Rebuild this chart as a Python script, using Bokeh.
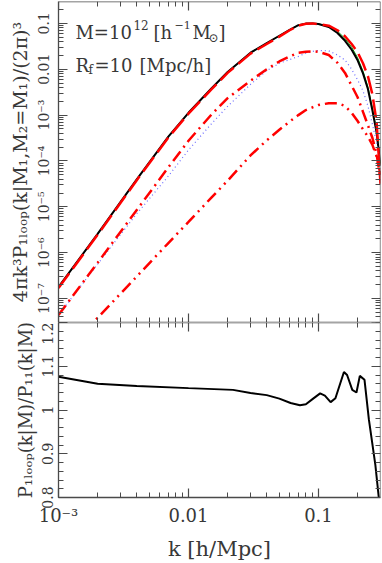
import numpy as np
from bokeh.plotting import figure
from bokeh.layouts import column
from bokeh.models import (Range1d, LogAxis, LinearAxis, FixedTicker,
                          CustomJSTickFormatter, Label)
from bokeh.embed import file_html
from bokeh.resources import INLINE

# ---------------- data ----------------
k = [0.001, 0.002, 0.004, 0.007, 0.01, 0.015, 0.02, 0.03, 0.04, 0.05, 0.06, 0.07,
     0.08, 0.09, 0.1, 0.12, 0.14, 0.16, 0.18, 0.2, 0.22, 0.24, 0.26, 0.28, 0.3]
# log10 of 4 pi k^3 P / (2 pi)^3
log_total_black = [-6.75, -5.59, -4.40, -3.47, -2.95, -2.42, -2.06, -1.64, -1.43, -1.27, -1.14, -1.04,
                   -1.005, -1.0, -1.015, -1.08, -1.21, -1.38, -1.575, -1.805, -2.09, -2.43, -2.90, -3.38, -4.1]
log_total_green = [-6.75, -5.59, -4.40, -3.47, -2.95, -2.42, -2.06, -1.64, -1.43, -1.27, -1.14, -1.04,
                   -1.005, -1.0, -1.01, -1.06, -1.17, -1.33, -1.52, -1.75, -2.04, -2.38, -2.85, -3.33, -4.05]
log_total_red = [-6.77, -5.61, -4.42, -3.49, -2.97, -2.44, -2.08, -1.66, -1.45, -1.29, -1.15, -1.05,
                 -1.01, -1.0, -1.02, -1.05, -1.15, -1.28, -1.45, -1.63, -1.87, -2.15, -2.55, -3.15, -4.5]
log_dashdot = [-7.36, -6.22, -5.07, -4.14, -3.56, -2.99, -2.63, -2.25, -2.0, -1.83, -1.72, -1.64,
               -1.62, -1.61, -1.62, -1.69, -1.86, -2.08, -2.36, -2.61, -2.93, -3.22, -3.50, -3.85, -4.4]
log_dotted = [-7.36, -6.25, -5.15, -4.33, -3.76, -3.19, -2.81, -2.33, -2.03, -1.87, -1.79, -1.72,
              -1.65, -1.61, -1.59, -1.60, -1.69, -1.80, -2.0, -2.23, -2.47, -2.80, -3.2, -3.6, -4.0]
log_dashdotdot = [-8.33, -7.42, -6.52, -5.79, -5.33, -4.80, -4.43, -3.88, -3.55, -3.32, -3.14, -3.0,
                  -2.89, -2.83, -2.78, -2.74, -2.74, -2.80, -2.95, -3.13, -3.31, -3.47, -3.65, -3.9, -4.3]

ratio_k = [0.001, 0.002, 0.004, 0.01, 0.022, 0.03, 0.04, 0.05, 0.061, 0.072, 0.08, 0.091,
           0.103, 0.112, 0.124, 0.135, 0.157, 0.166, 0.182, 0.196, 0.208, 0.226, 0.244,
           0.274, 0.291, 0.3]
ratio = [1.076, 1.060, 1.055, 1.050, 1.046, 1.039, 1.034, 1.026, 1.016, 1.011, 1.013, 1.026,
         1.038, 1.033, 1.018, 1.027, 1.087, 1.080, 1.046, 1.040, 1.078, 1.069, 0.979,
         0.874, 0.80, 0.75]

x_major = [1e-3, 1e-2, 1e-1]
y_major = [1e-7, 1e-6, 1e-5, 1e-4, 1e-3, 1e-2, 1e-1]
r_major = [0.8, 0.9, 1.0, 1.1, 1.2]

FONT = "DejaVu Serif"
AXC = "#4a4a4a"
TXC = "#383838"

x_minor = [m * d for d in (1e-3, 1e-2, 1e-1) for m in range(2, 10) if m * d <= 0.3 + 1e-9]
y_minor = [m * 10.0 ** e for e in range(-8, 0) for m in range(2, 10)]
r_minor = [round(0.8 + 0.02 * i, 3) for i in range(21)]

LOG_FMT = """
const e = Math.round(Math.log10(tick));
if (e >= -2) { return e == -1 ? '0.1' : (e == -2 ? '0.01' : String(tick)); }
const sup = {'-': '\u207b', '0': '\u2070', '1': '\u00b9', '2': '\u00b2', '3': '\u00b3',
             '4': '\u2074', '5': '\u2075', '6': '\u2076', '7': '\u2077', '8': '\u2078', '9': '\u2079'};
return '10' + String(e).split('').map(c => sup[c]).join('');
"""


def style(ax, labels=True, size="13px"):
    ax.axis_line_color = AXC
    ax.axis_line_width = 1.3
    ax.major_tick_line_color = AXC
    ax.minor_tick_line_color = AXC
    ax.major_tick_line_width = 1.2
    ax.minor_tick_line_width = 1
    ax.major_tick_in = 9
    ax.major_tick_out = 0
    ax.minor_tick_in = 5
    ax.minor_tick_out = 0
    ax.major_label_text_font = FONT
    ax.major_label_text_color = TXC
    ax.axis_label_text_font = FONT
    ax.axis_label_text_color = TXC
    ax.axis_label_text_font_style = "normal"
    if labels:
        ax.major_label_text_font_size = size
    else:
        ax.major_label_text_font_size = "1px"
        ax.major_label_text_alpha = 0
        ax.major_label_standoff = 0
        ax.axis_label_standoff = 0


# ---------------- top panel ----------------
p1 = figure(x_axis_type="log", y_axis_type="log",
            x_range=Range1d(1e-3, 0.3), y_range=Range1d(3e-8, 0.3),
            width=382, height=322,
            min_border_left=58, min_border_right=2, min_border_top=1, min_border_bottom=0,
            output_backend="svg", toolbar_location=None)
p1.grid.visible = False
p1.outline_line_color = None

xa = p1.xaxis[0]
xa.ticker = FixedTicker(ticks=x_major, minor_ticks=x_minor)
style(xa, labels=False)
xa.fixed_location = 3e-8

ya = p1.yaxis[0]
ya.ticker = FixedTicker(ticks=y_major, minor_ticks=y_minor)
ya.formatter = CustomJSTickFormatter(code=LOG_FMT)
style(ya, size="14px")
ya.major_label_orientation = "vertical"
ya.major_label_standoff = 6
ya.axis_label = "4πk³P₁ₗₒₒₚ(k|M₁,M₂=M₁)/(2π)³"
ya.axis_label_text_font_size = "19px"
ya.axis_label_standoff = 3

top_ax = LogAxis(ticker=FixedTicker(ticks=x_major, minor_ticks=x_minor), fixed_location=0.3)
style(top_ax, labels=False)
p1.add_layout(top_ax, "above")
right_ax = LogAxis(ticker=FixedTicker(ticks=y_major, minor_ticks=y_minor), fixed_location=0.3)
style(right_ax, labels=False)
p1.add_layout(right_ax, "right")

P_black = [10 ** v for v in log_total_black]
P_green = [10 ** v for v in log_total_green]
P_red = [10 ** v for v in log_total_red]
P_dd = [10 ** v for v in log_dashdot]
P_dot = [10 ** v for v in log_dotted]
P_ddd = [10 ** v for v in log_dashdotdot]

p1.line(k, P_green, line_color="#00a000", line_width=1)
p1.line(k, P_black, line_color="black", line_width=2)
p1.line(k, P_dot, line_color="#6b6bff", line_width=1.2, line_dash="1 3")
p1.line(k, P_dd, line_color="#ff0000", line_width=2.5, line_dash="12 5 2 5")
p1.line(k, P_ddd, line_color="#ff0000", line_width=2.5, line_dash="12 5 2 5 2 5")
p1.line(k, P_red, line_color="#ff0000", line_width=2.5, line_dash="18 6")


def rich(p, x, y, pieces):
    for txt, size, dx, dy in pieces:
        p.add_layout(Label(x=x, y=y, text=txt, x_offset=dx, y_offset=dy,
                           text_font=FONT, text_font_size=size, text_color=TXC,
                           text_baseline="alphabetic", text_align="left"))


rich(p1, 0.00135, 0.063, [("M=10", "18px", 0, 0), ("12", "12px", 58, 8),
                          ("[h", "18px", 78, 0), ("−1", "11px", 99, 8),
                          ("M", "18px", 117, 0), ("⊙", "12px", 133, -5),
                          ("]", "18px", 143, 0)])
rich(p1, 0.00135, 0.0119, [("R", "18px", 0, 0), ("f", "12px", 13, -4),
                           ("=10", "18px", 19, 0), ("[Mpc/h]", "18px", 64, 0)])

# ---------------- bottom panel ----------------
p2 = figure(x_axis_type="log",
            x_range=Range1d(1e-3, 0.3), y_range=Range1d(0.8, 1.2),
            width=382, height=241,
            min_border_left=58, min_border_right=2, min_border_top=0, min_border_bottom=63,
            output_backend="svg", toolbar_location=None)
p2.grid.visible = False
p2.outline_line_color = None

xb = p2.xaxis[0]
xb.ticker = FixedTicker(ticks=x_major, minor_ticks=x_minor)
xb.formatter = CustomJSTickFormatter(code=LOG_FMT)
style(xb, size="18px")
xb.major_label_standoff = 7
xb.axis_label = "k [h/Mpc]"
xb.axis_label_text_font_size = "21px"
xb.axis_label_standoff = 8

yb = p2.yaxis[0]
yb.ticker = FixedTicker(ticks=r_major, minor_ticks=r_minor)
yb.formatter = CustomJSTickFormatter(code="return Math.abs(tick - 1) < 1e-9 ? '1' : tick.toFixed(1);")
style(yb, size="14px")
yb.major_label_orientation = "vertical"
yb.major_label_standoff = 6
yb.axis_label = "P₁ₗₒₒₚ(k|M)/P₁₁(k|M)"
yb.axis_label_text_font_size = "18px"
yb.axis_label_standoff = 3

top2 = LogAxis(ticker=FixedTicker(ticks=x_major, minor_ticks=x_minor), fixed_location=1.2)
style(top2, labels=False)
p2.add_layout(top2, "above")
right2 = LinearAxis(ticker=FixedTicker(ticks=r_major, minor_ticks=r_minor), fixed_location=0.3)
style(right2, labels=False)
p2.add_layout(right2, "right")

p2.line(ratio_k, ratio, line_color="black", line_width=2)

layout = column(p1, p2, spacing=0)
open("out.html", "w").write(file_html(layout, INLINE))
